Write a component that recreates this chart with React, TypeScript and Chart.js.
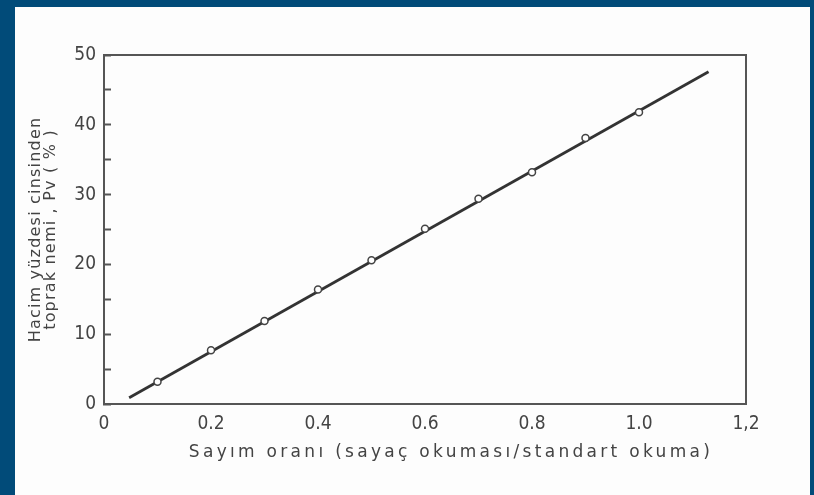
import { useEffect, useRef } from 'react';
import { Chart, registerables } from 'chart.js';

Chart.register(...registerables);

// measured points
const xValues = [0.1, 0.2, 0.3, 0.4, 0.5, 0.6, 0.7, 0.8, 0.9, 1.0];
const yValues = [3.2, 7.7, 11.9, 16.4, 20.6, 25.1, 29.4, 33.2, 38.1, 41.8];
// fitted straight line (end points)
const fitX = [0.047, 1.13];
const fitY = [0.9, 47.6];
// ticks
const xTickLabels = ['0', '0.2', '0.4', '0.6', '0.8', '1.0', '1,2'];
const yTickLabels = ['0', '10', '20', '30', '40', '50'];
// titles
const yTitle = ['Hacim yüzdesi cinsinden', 'toprak nemi , Pv ( % )'];
const xTitle = 'Sayım oranı (sayaç okuması/standart okuma)';

const INK = '#444444';
const TICK_FONT = "'DejaVu Sans Condensed', 'DejaVu Sans', sans-serif";
const TITLE_FONT = "'DejaVu Sans', sans-serif";

export default function App() {
  const ref = useRef<HTMLCanvasElement | null>(null);

  useEffect(() => {
    if (!ref.current) return;

    const spacingPlugin = {
      id: 'spacing',
      beforeDraw(chart: any) {
        chart.ctx.letterSpacing = '1.2px';
      },
      beforeDatasetsDraw(chart: any) {
        chart.ctx.letterSpacing = '0px';
      },
    };

    const framePlugin = {
      id: 'frame',
      afterDraw(chart: any) {
        const { ctx, chartArea } = chart;
        ctx.save();
        ctx.strokeStyle = '#555';
        ctx.lineWidth = 2;
        ctx.beginPath();
        ctx.moveTo(chartArea.left, chartArea.top);
        ctx.lineTo(chartArea.right, chartArea.top);
        ctx.lineTo(chartArea.right, chartArea.bottom);
        ctx.stroke();
        // x-axis title
        ctx.letterSpacing = '3.3px';
        ctx.font = `17px ${TITLE_FONT}`;
        ctx.fillStyle = INK;
        ctx.textAlign = 'center';
        ctx.textBaseline = 'middle';
        ctx.fillText(xTitle, 436, 446);
        ctx.restore();
      },
    };

    const chart = new Chart(ref.current, {
      type: 'scatter',
      data: {
        datasets: [
          {
            label: 'points',
            data: xValues.map((x, i) => ({ x, y: yValues[i] })),
            pointStyle: 'circle',
            pointRadius: 3.5,
            pointBorderWidth: 1.5,
            pointBackgroundColor: '#ffffff',
            pointBorderColor: '#444',
            showLine: false,
          },
          {
            label: 'fit',
            data: fitX.map((x, i) => ({ x, y: fitY[i] })),
            showLine: true,
            borderColor: '#333333',
            borderWidth: 2.8,
            pointRadius: 0,
          },
        ],
      },
      options: {
        animation: false,
        responsive: false,
        devicePixelRatio: 1,
        layout: { padding: { left: 0, right: 64, top: 48, bottom: 0 } },
        plugins: { legend: { display: false }, tooltip: { enabled: false } },
        scales: {
          x: {
            type: 'linear',
            min: 0,
            max: 1.2,
            afterFit: (s: any) => { s.height = 91; },
            grid: { display: false, drawTicks: false },
            border: { display: true, color: '#555', width: 2 },
            ticks: {
              z: 1,
              stepSize: 0.2,
              padding: 9,
              color: INK,
              font: { family: TICK_FONT, size: 19 },
              callback: (v: any) => xTickLabels[Math.round(Number(v) / 0.2)] ?? '',
            },
          },
          y: {
            type: 'linear',
            min: 0,
            max: 50,
            afterFit: (s: any) => { s.width = 89; },
            grid: {
              display: true,
              drawOnChartArea: false,
              drawTicks: true,
              tickLength: -7,
              tickColor: '#555',
              tickWidth: 2,
            },
            border: { display: true, color: '#555', width: 2 },
            ticks: {
              z: 1,
              stepSize: 5,
              padding: 15,
              color: INK,
              font: { family: TICK_FONT, size: 19 },
              callback: (v: any) => {
                const n = Math.round(Number(v));
                return n % 10 === 0 ? yTickLabels[n / 10] : '';
              },
            },
            title: {
              display: true,
              text: yTitle,
              color: INK,
              font: { family: TITLE_FONT, size: 16, lineHeight: 0.95 },
              padding: { top: 13, bottom: 0 },
            },
          },
        },
      },
      plugins: [spacingPlugin, framePlugin],
    });

    return () => chart.destroy();
  }, []);

  return (
    <div style={{ position: 'fixed', inset: 0, background: '#014b79' }}>
      <div
        style={{
          position: 'absolute',
          left: 15,
          top: 7,
          width: 795,
          height: 488,
          background: '#fdfdfd',
        }}
      >
        <canvas ref={ref} width={795} height={488} style={{ display: 'block' }} />
      </div>
    </div>
  );
}
